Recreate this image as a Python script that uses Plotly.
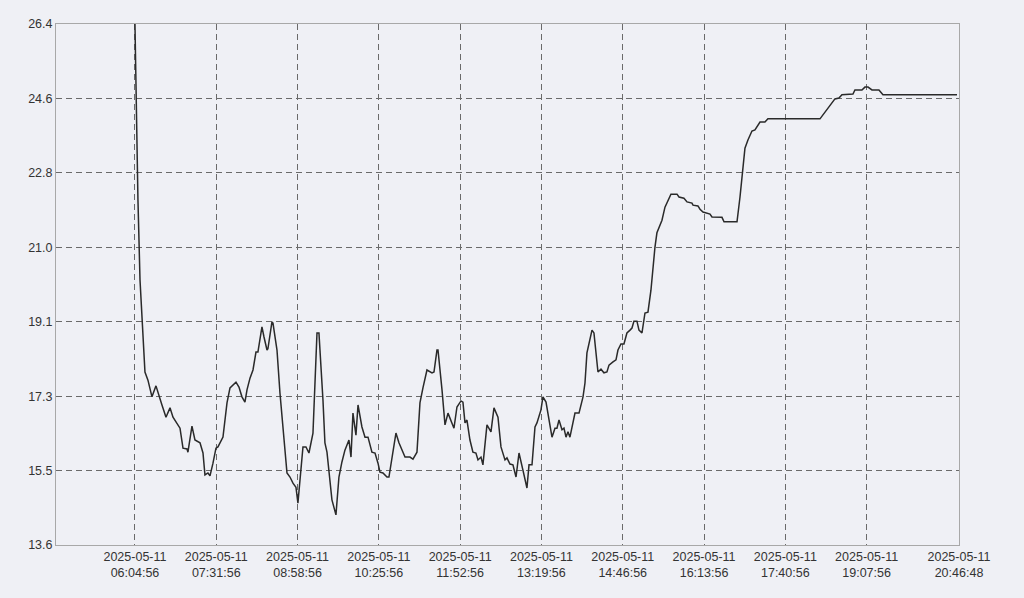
import pandas as pd
import plotly.graph_objects as go

# Elapsed minutes from the first reading (2025-05-11 06:04:56)
start_time = "2025-05-11 06:04:56"
elapsed_min = [
    0.0, 1.1, 3.2, 5.4, 7.5, 9.6, 10.7, 13.9, 18.2, 22.5, 25.7, 28.9, 33.2, 37.5, 40.7, 45.0,
    48.2, 51.4, 55.7, 56.7, 61.0, 64.2, 69.6, 72.8, 74.9, 78.1, 80.3, 83.5, 86.7, 88.8, 94.2,
    98.5, 101.7, 108.1, 111.3, 114.5, 117.7, 119.9, 123.1, 126.3, 129.5, 131.6, 135.9, 138.1,
    141.3, 142.3, 146.6, 147.7, 152.0, 155.2, 158.4, 162.7, 165.9, 169.1, 172.3, 174.4, 179.8,
    183.0, 186.2, 190.5, 194.8, 196.9, 201.2, 203.3, 205.5, 210.8, 215.1, 218.3, 221.5, 224.7,
    229.0, 231.2, 233.3, 236.5, 238.7, 242.9, 246.2, 249.4, 253.6, 256.9, 260.1, 262.2, 265.4,
    269.7, 271.8, 275.0, 279.3, 282.5, 286.8, 289.0, 294.3, 297.5, 301.8, 305.0, 308.2, 312.5,
    317.9, 320.0, 323.2, 324.3, 328.6, 331.8, 335.0, 338.2, 341.4, 344.6, 348.9, 351.0, 353.2,
    355.3, 358.5, 361.7, 364.9, 367.1, 370.3, 372.4, 376.7, 381.0, 384.2, 388.5, 391.7, 396.0,
    398.1, 401.3, 404.5, 407.8, 411.0, 415.2, 419.5, 421.7, 424.9, 428.1, 430.2, 434.5, 436.6,
    439.9, 443.1, 446.3, 449.5, 451.6, 453.8, 457.0, 459.1, 461.3, 463.4, 465.5, 470.9, 475.2,
    479.5, 481.6, 483.7, 489.1, 491.2, 495.5, 498.7, 501.9, 505.1, 507.3, 511.6, 514.8, 516.9,
    520.1, 523.3, 526.5, 529.8, 531.9, 534.0, 537.2, 539.4, 542.6, 545.8, 549.0, 552.2, 554.4,
    556.5, 558.6, 564.0, 567.2, 569.4, 573.6, 580.1, 582.2, 587.5, 590.8, 596.1, 597.2, 602.5,
    604.7, 607.9, 611.1, 615.4, 617.5, 628.2, 630.4, 644.3, 647.5, 649.6, 652.8, 656.0, 660.3,
    663.5, 665.7, 668.9, 674.2, 677.4, 733.1, 738.4, 743.8, 749.1, 753.4, 756.6, 768.4, 770.5,
    778.0, 781.2, 784.5, 788.7, 796.2, 800.5, 879.7,
]
values = [
    26.40, 24.53, 22.08, 20.11, 19.13, 18.15, 17.85, 17.65, 17.24, 17.51, 17.24, 17.04, 16.74,
    16.97, 16.74, 16.60, 16.47, 15.98, 15.96, 15.88, 16.52, 16.18, 16.11, 15.86, 15.32, 15.37,
    15.30, 15.61, 15.98, 16.01, 16.25, 17.09, 17.46, 17.60, 17.48, 17.24, 17.11, 17.41, 17.70,
    17.90, 18.34, 18.34, 18.96, 18.71, 18.39, 18.42, 19.08, 19.05, 18.39, 17.33, 16.50, 15.37,
    15.27, 15.12, 15.02, 14.63, 16.01, 16.01, 15.86, 16.35, 18.81, 18.81, 17.16, 16.11, 15.88,
    14.71, 14.34, 15.27, 15.64, 15.93, 16.18, 15.76, 16.84, 16.30, 17.04, 16.50, 16.25, 16.25,
    15.88, 15.86, 15.61, 15.39, 15.37, 15.27, 15.27, 15.74, 16.35, 16.11, 15.86, 15.76, 15.76,
    15.71, 15.88, 17.09, 17.46, 17.90, 17.83, 17.85, 18.39, 18.39, 17.41, 16.55, 16.84, 16.67,
    16.47, 16.99, 17.14, 17.11, 16.60, 16.67, 16.18, 15.88, 15.86, 15.69, 15.76, 15.57, 16.55,
    16.38, 16.97, 16.74, 16.01, 15.69, 15.74, 15.59, 15.57, 15.27, 15.86, 15.44, 15.00, 15.57,
    15.57, 16.50, 16.60, 16.92, 17.24, 17.11, 16.67, 16.25, 16.47, 16.47, 16.67, 16.43, 16.47,
    16.25, 16.38, 16.25, 16.84, 16.84, 17.24, 17.58, 18.32, 18.88, 18.81, 17.85, 17.92, 17.83,
    17.85, 18.02, 18.10, 18.15, 18.39, 18.54, 18.54, 18.81, 18.88, 18.93, 19.10, 19.10, 18.88,
    18.81, 19.30, 19.32, 19.86, 20.43, 20.92, 21.27, 21.58, 21.90, 22.00, 22.22, 22.22, 22.15,
    22.12, 22.03, 22.00, 21.95, 21.93, 21.85, 21.78, 21.76, 21.73, 21.66, 21.65, 21.54, 21.54,
    22.15, 22.69, 23.35, 23.55, 23.77, 23.80, 23.87, 23.99, 23.99, 24.07, 24.07, 24.24, 24.41,
    24.56, 24.58, 24.66, 24.68, 24.78, 24.78, 24.85, 24.85, 24.78, 24.78, 24.66, 24.66,
]

x_tick_times = [
    "2025-05-11 06:04:56", "2025-05-11 07:31:56", "2025-05-11 08:58:56",
    "2025-05-11 10:25:56", "2025-05-11 11:52:56", "2025-05-11 13:19:56",
    "2025-05-11 14:46:56", "2025-05-11 16:13:56", "2025-05-11 17:40:56",
    "2025-05-11 19:07:56", "2025-05-11 20:46:48",
]
y_tick_labels = ["13.6", "15.5", "17.3", "19.1", "21.0", "22.8", "24.6", "26.4"]
y_min, y_max = 13.6, 26.4
x_range = ["2025-05-11 04:40:26", "2025-05-11 20:46:48"]

times = pd.Timestamp(start_time) + pd.to_timedelta(elapsed_min, unit="m")
x_tick_vals = pd.to_datetime(x_tick_times)
x_tick_text = [t.replace(" ", "<br>") for t in x_tick_times]
n = len(y_tick_labels) - 1
y_tick_vals = [y_min + (y_max - y_min) * i / n for i in range(n + 1)]

BG = "#eff0f5"
fig = go.Figure()
fig.add_trace(go.Scatter(
    x=times, y=values, mode="lines",
    line=dict(color="#2a2a2a", width=1.5),
    hoverinfo="x+y", showlegend=False,
))

fig.update_layout(
    width=1024, height=598,
    paper_bgcolor=BG, plot_bgcolor=BG,
    margin=dict(l=56, r=65, t=24, b=53, pad=0),
    font=dict(family="Liberation Sans, Arial, sans-serif", size=12.5, color="#333333"),
    showlegend=False,
)
fig.update_xaxes(
    type="date", range=x_range,
    tickmode="array", tickvals=x_tick_vals, ticktext=x_tick_text,
    showgrid=True, gridcolor="#6a6a6a", gridwidth=1, griddash="6px,4px",
    showline=True, linecolor="#a8a8a8", linewidth=1, mirror=True,
    ticks="", zeroline=False, tickangle=0,
)
fig.update_yaxes(
    range=[y_min, y_max],
    tickmode="array", tickvals=y_tick_vals, ticktext=y_tick_labels,
    showgrid=True, gridcolor="#6a6a6a", gridwidth=1, griddash="6px,4px",
    showline=True, linecolor="#a8a8a8", linewidth=1, mirror=True,
    ticks="", zeroline=False,
)

fig.write_html(
    "out.html",
    config={"displayModeBar": False},
    post_script="document.body.style.margin='0';document.body.style.overflow='hidden';"
                "document.body.style.background='" + BG + "';",
)
